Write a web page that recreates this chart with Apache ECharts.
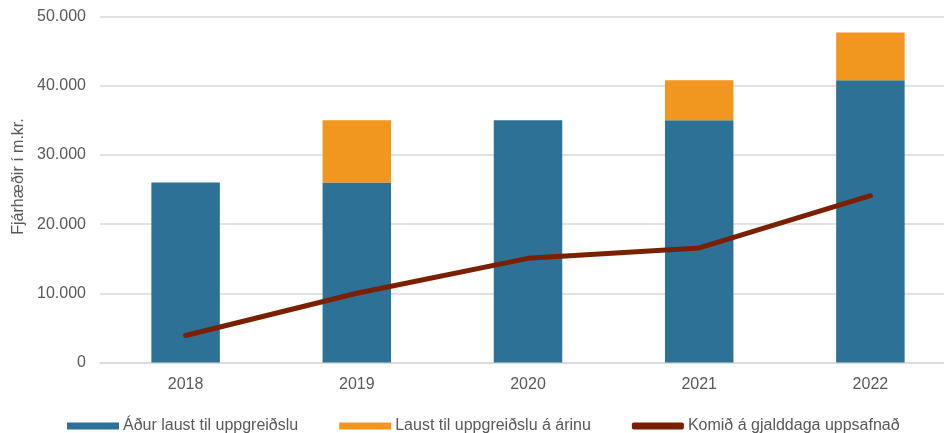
<!DOCTYPE html>
<html>
<head>
<meta charset="utf-8">
<script src="https://cdn.jsdelivr.net/npm/echarts@6/dist/echarts.min.js"></script>
<style>html,body{margin:0;padding:0;background:#fff}#c{width:944px;height:433px}</style>
</head>
<body>
<div id="c"></div>
<script>
const categories = ['2018', '2019', '2020', '2021', '2022'];
const adurLaust = [26000, 26000, 35000, 35000, 40800];
const laustArinu = [0, 9000, 0, 5800, 6900];
const komid = [3900, 10000, 15050, 16550, 24100];
const yTicks = [0, 10000, 20000, 30000, 40000, 50000];

const fmt = v => String(v).replace(/\B(?=(\d{3})+(?!\d))/g, '.');
const txt = '#595959';
const font = '"Liberation Sans", Arial, sans-serif';

const chart = echarts.init(document.getElementById('c'), null, {renderer: 'canvas'});
chart.setOption({
  animation: false,
  backgroundColor: '#fff',
  textStyle: {fontFamily: font},
  grid: {left: 100, width: 856, top: 16.5, bottom: 70.5, containLabel: false, outerBoundsMode: 'none'},
  legend: {
    left: 62, top: 413,
    itemWidth: 52, itemHeight: 7, itemGap: 41,
    textStyle: {color: txt, fontSize: 16, fontFamily: font, padding: [0, 0, 0, -1]},
    data: [
      {name: 'Áður laust til uppgreiðslu', icon: 'rect'},
      {name: 'Laust til uppgreiðslu á árinu', icon: 'rect'},
      {name: 'Komið á gjalddaga uppsafnað', icon: 'roundRect'}
    ]
  },
  xAxis: {
    type: 'category', data: categories,
    axisLine: {lineStyle: {color: '#d9d9d9', width: 1.5}},
    axisTick: {show: false},
    axisLabel: {color: txt, fontSize: 16, margin: 14, fontFamily: font}
  },
  yAxis: {
    type: 'value', min: yTicks[0], max: yTicks[yTicks.length - 1], interval: 10000,
    name: 'Fjárhæðir í m.kr.', nameLocation: 'middle', nameGap: 73,
    nameTextStyle: {color: txt, fontSize: 16, fontFamily: font, padding: [0, 0, 0, 26]},
    axisLine: {show: false}, axisTick: {show: false},
    axisLabel: {color: txt, fontSize: 16, margin: 14, fontFamily: font, formatter: fmt},
    splitLine: {lineStyle: {color: '#d9d9d9', width: 1.5}}
  },
  series: [
    {name: 'Áður laust til uppgreiðslu', type: 'bar', stack: 's', barWidth: '40%',
     itemStyle: {color: '#2E7196'}, data: adurLaust},
    {name: 'Laust til uppgreiðslu á árinu', type: 'bar', stack: 's', barWidth: '40%',
     itemStyle: {color: '#F1961E'}, data: laustArinu},
    {name: 'Komið á gjalddaga uppsafnað', type: 'line', data: komid, symbol: 'none',
     lineStyle: {color: '#7A2000', width: 5, cap: 'round', join: 'round'},
     itemStyle: {color: '#7A2000'}}
  ]
});
</script>
</body>
</html>
